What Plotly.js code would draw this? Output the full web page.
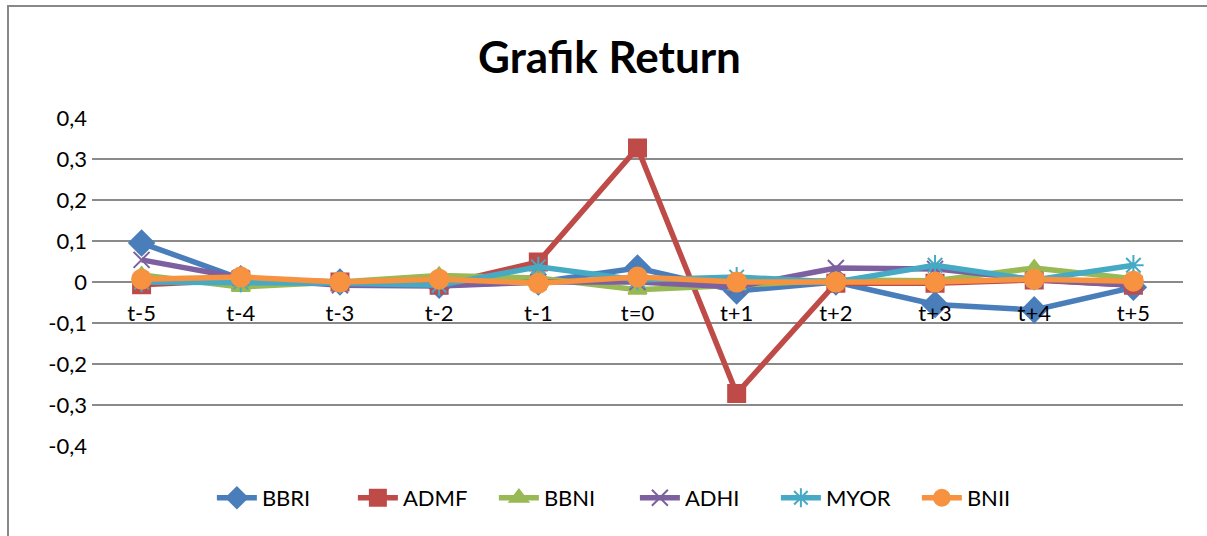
<!DOCTYPE html>
<html>
<head>
<meta charset="utf-8">
<script src="https://cdn.plot.ly/plotly-3.0.1.min.js"></script>
<style>
html,body{margin:0;padding:0;overflow:hidden;background:#fff;}
#chart{position:absolute;left:0;top:0;width:1207px;height:536px;}
#frame{position:absolute;left:7px;top:5px;width:1400px;height:700px;border:2px solid #888;pointer-events:none;}
</style>
</head>
<body>
<div id="chart"></div>
<div id="frame"></div>
<script>
const categories = ['t-5','t-4','t-3','t-2','t-1','t=0','t+1','t+2','t+3','t+4','t+5'];
const BBRI = [0.095, 0.008, 0.0, -0.008, 0.0, 0.034, -0.022, 0.0, -0.055, -0.068, -0.013];
const ADMF = [-0.007, 0.005, 0.0, -0.008, 0.049, 0.327, -0.272, -0.003, -0.003, 0.005, -0.008];
const BBNI = [0.017, -0.012, 0.0, 0.016, 0.01, -0.019, -0.008, 0.005, 0.003, 0.034, 0.008];
const ADHI = [0.054, 0.01, -0.008, -0.01, 0.0, 0.0, -0.012, 0.034, 0.032, 0.006, -0.008];
const MYOR = [0.0, 0.0, -0.003, -0.008, 0.037, 0.005, 0.012, 0.0, 0.041, 0.005, 0.041];
const BNII = [0.007, 0.012, 0.0, 0.007, -0.003, 0.012, 0.0, 0.0, 0.0, 0.007, 0.002];
const yTickVals = [0.4, 0.3, 0.2, 0.1, 0, -0.1, -0.2, -0.3, -0.4];
const yTickText = ['0,4', '0,3', '0,2', '0,1', '0', '-0,1', '-0,2', '-0,3', '-0,4'];

const seriesDefs = [
  {name:'BBRI', y:BBRI, color:'#4A7EBB', symbol:'diamond', size:19},
  {name:'ADMF', y:ADMF, color:'#BE4B48', symbol:'square', size:17},
  {name:'BBNI', y:BBNI, color:'#98B954', symbol:'triangle-up', size:16},
  {name:'ADHI', y:ADHI, color:'#7D60A0', symbol:'x-thin-open', size:16},
  {name:'MYOR', y:MYOR, color:'#46AAC5', symbol:'asterisk-open', size:17},
  {name:'BNII', y:BNII, color:'#F69240', symbol:'circle', size:19}
];

const traces = seriesDefs.map(s => ({
  type:'scatter', mode:'lines+markers', name:s.name,
  x:categories, y:s.y,
  line:{color:s.color, width:5.5},
  marker:{symbol:s.symbol, size:s.size, color:s.color, line:{color:s.color, width:2}}
}));

const layout = {
  width:1207, height:536,
  margin:{l:92, r:24, t:118, b:90},
  paper_bgcolor:'#ffffff', plot_bgcolor:'rgba(0,0,0,0)',
  font:{family:'Lato, "Open Sans", sans-serif', size:22, color:'#000'},
  title:{text:'<b>Grafik Return</b>', font:{family:'Lato, sans-serif', size:44, color:'#000'},
         xref:'container', yref:'container', x:0.505, y:0.892, xanchor:'center', yanchor:'middle'},
  showlegend:true,
  legend:{orientation:'h', xref:'container', yref:'container', x:0.526, y:0.071,
          xanchor:'center', yanchor:'middle', font:{size:22}, itemwidth:40,
          entrywidth:86, entrywidthmode:'pixels'},
  xaxis:{type:'category', anchor:'free', position:0.5, showgrid:false, zeroline:false,
         showline:false, ticks:'outside', ticklen:12, tickcolor:'rgba(0,0,0,0)',
         tickfont:{size:22}, range:[-0.5, 10.5], fixedrange:true},
  yaxis:{range:[-0.4, 0.4], tickvals:yTickVals, ticktext:yTickText, showgrid:true,
         gridcolor:'#8a8a8a', gridwidth:2, zeroline:false, showline:false, ticks:'',
         ticklabelstandoff:4, tickfont:{size:22}, fixedrange:true}
};

Plotly.newPlot('chart', traces, layout, {staticPlot:true, displayModeBar:false});
</script>
</body>
</html>
